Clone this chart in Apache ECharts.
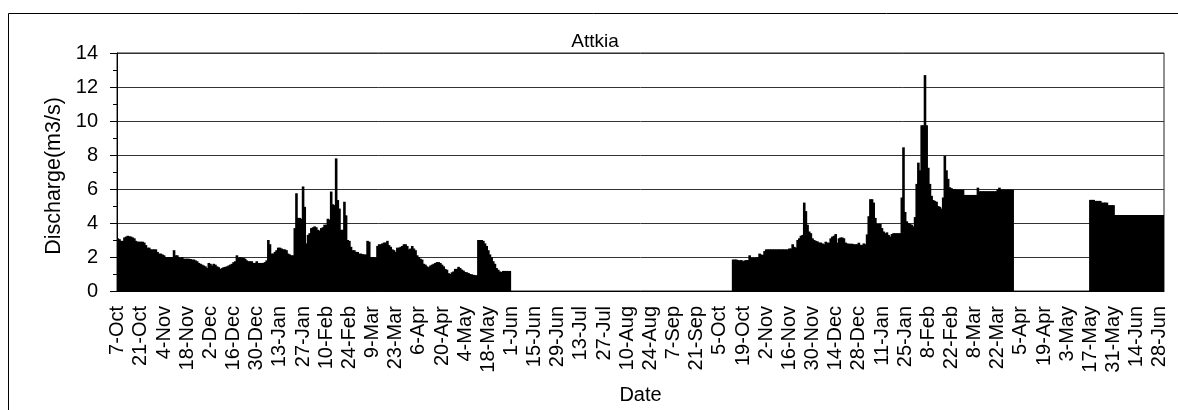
<!DOCTYPE html>
<html>
<head>
<meta charset="utf-8">
<title>Attkia</title>
<script src="https://cdn.jsdelivr.net/npm/echarts@6.0.0/dist/echarts.min.js"></script>
<style>
  html, body { margin: 0; padding: 0; background: #fff; }
  #chart { width: 1178px; height: 410px; }
</style>
</head>
<body>
<div id="chart"></div>
<script>
// Daily discharge record, one bar per day
const START_DATE = '2003-10-07';
const DAY_COUNT = 633;                 // 7-Oct-2003 .. 30-Jun-2005
const MONTHS = ['Jan','Feb','Mar','Apr','May','Jun','Jul','Aug','Sep','Oct','Nov','Dec'];
const TICK_EVERY = 14;                 // one labelled tick every two weeks

// Season 1: 7-Oct-2003 .. 31-May-2004
const season1Start = '2003-10-07';
const season1 = [
  3.1,3.05,2.95,2.95,3.15,3.2,3.25,3.22,3.2,3.15,
  3.1,2.95,2.9,2.9,2.9,2.9,2.85,2.7,2.55,2.55,
  2.45,2.45,2.45,2.45,2.3,2.2,2.2,2.15,2.1,2.0,
  2.0,2.0,2.0,2.0,2.4,2.1,2.1,2.0,1.95,2.0,
  1.9,1.9,1.9,1.9,1.88,1.85,1.85,1.8,1.75,1.65,
  1.6,1.55,1.5,1.45,1.35,1.65,1.6,1.5,1.6,1.55,
  1.45,1.4,1.3,1.35,1.4,1.42,1.45,1.5,1.55,1.6,
  1.7,1.75,2.1,1.95,2.0,1.95,1.95,1.9,1.8,1.75,
  1.75,1.75,1.65,1.65,1.75,1.65,1.65,1.65,1.65,1.7,
  1.8,3.0,2.75,2.2,2.2,2.3,2.4,2.55,2.55,2.5,
  2.45,2.45,2.4,2.2,2.15,2.1,2.1,3.7,5.75,4.3,
  4.3,4.25,6.15,4.95,2.8,3.3,3.4,3.7,3.75,3.8,
  3.75,3.6,3.55,3.7,3.75,3.9,3.9,4.25,4.2,5.85,
  5.1,5.05,7.8,5.35,4.85,3.6,3.6,5.25,4.45,3.0,
  2.95,2.6,2.4,2.4,2.3,2.3,2.2,2.2,2.17,2.15,
  2.15,2.95,2.9,2.0,2.0,1.97,1.97,2.65,2.75,2.75,
  2.8,2.85,2.85,2.95,2.7,2.6,2.45,2.4,2.3,2.55,
  2.55,2.6,2.65,2.75,2.75,2.65,2.45,2.5,2.65,2.5,
  2.4,2.1,2.0,1.9,1.85,1.6,1.55,1.45,1.4,1.5,
  1.55,1.6,1.65,1.7,1.7,1.65,1.55,1.45,1.3,1.25,
  1.05,1.0,1.1,1.15,1.3,1.3,1.42,1.35,1.26,1.2,
  1.12,1.1,1.06,1.0,0.98,0.95,0.93,0.93,3.0,3.0,
  3.0,2.95,2.8,2.65,2.4,2.15,2.0,1.75,1.6,1.35,
  1.25,1.15,1.12,1.18,1.18,1.18,1.18,1.18
];

// Season 2: 13-Oct-2004 .. 31-Mar-2005
const season2Start = '2004-10-13';
const season2 = [
  1.85,1.85,1.85,1.82,1.8,1.82,1.75,1.8,1.82,1.82,
  2.1,1.95,1.95,1.96,1.96,2.0,2.2,2.15,2.12,2.35,
  2.45,2.45,2.45,2.45,2.45,2.45,2.45,2.45,2.45,2.45,
  2.45,2.45,2.45,2.45,2.5,2.5,2.75,2.6,2.55,3.0,
  3.1,3.25,3.3,5.2,4.7,3.9,3.5,3.4,3.1,3.0,
  2.95,2.92,2.85,2.85,2.8,2.75,2.9,2.85,2.84,3.1,
  3.2,3.25,3.35,2.84,3.1,3.15,3.15,3.1,2.85,2.8,
  2.78,2.78,2.78,2.75,2.75,2.75,2.84,2.72,2.7,2.8,
  2.75,3.33,4.4,5.4,5.4,5.2,4.3,3.95,3.95,3.95,
  3.7,3.5,3.4,3.45,3.3,3.2,3.35,3.4,3.4,3.4,
  3.4,3.4,5.5,8.45,4.65,4.1,4.0,3.95,3.9,3.8,
  4.35,6.3,7.55,7.1,9.75,9.75,12.7,9.75,7.25,6.3,
  5.6,5.35,5.3,5.25,5.0,4.95,4.85,5.5,7.95,7.1,
  6.6,6.1,6.05,6.0,6.0,5.96,5.96,5.96,5.96,5.96,
  5.65,5.65,5.65,5.65,5.65,5.65,5.65,5.65,6.08,5.87,
  5.87,5.87,5.87,5.87,5.87,5.87,5.87,5.87,5.87,5.87,
  5.98,6.08,5.96,5.96,5.96,5.96,5.96,5.96,5.96,5.96
];

// Season 3: 17-May-2005 .. 30-Jun-2005
const season3Start = '2005-05-17';
const season3 = [
  5.36,5.36,5.36,5.3,5.3,5.3,5.3,5.2,5.2,5.2,
  5.2,5.05,5.05,5.05,5.05,
  4.47,4.47,4.47,4.47,4.47,4.47,4.47,4.47,4.47,4.47,
  4.47,4.47,4.47,4.47,4.47,4.47,4.47,4.47,4.47,4.47,
  4.47,4.47,4.47,4.47,4.47,4.47,4.47,4.47,4.47,4.47
];

const DAY_MS = 86400000;
const t0 = Date.parse(START_DATE);
const dayIndex = iso => Math.round((Date.parse(iso) - t0) / DAY_MS);

// "7-Oct" style day labels for the category axis
const categories = [];
for (let i = 0; i < DAY_COUNT; i++) {
  const d = new Date(t0 + i * DAY_MS);
  categories.push(d.getUTCDate() + '-' + MONTHS[d.getUTCMonth()]);
}

// Days without a record stay empty
const discharge = new Array(DAY_COUNT).fill(null);
[[season1Start, season1], [season2Start, season2], [season3Start, season3]].forEach(([start, values]) => {
  const offset = dayIndex(start);
  values.forEach((v, i) => { discharge[offset + i] = v; });
});

const FONT = "'Liberation Sans', Arial, sans-serif";
const INK = '#000';

const chart = echarts.init(document.getElementById('chart'), null, { renderer: 'canvas' });
chart.setOption({
  animation: false,
  backgroundColor: '#fff',
  textStyle: { fontFamily: FONT, color: INK },
  title: {
    text: 'Attkia',
    left: 590,
    top: 27,
    textAlign: 'center',
    textStyle: { fontFamily: FONT, fontSize: 19, fontWeight: 'normal', color: INK }
  },
  grid: {
    left: 117, top: 53, width: 1047, height: 238,
    show: true, borderColor: '#222', borderWidth: 1, backgroundColor: 'transparent'
  },
  xAxis: {
    type: 'category',
    data: categories,
    boundaryGap: true,
    name: 'Date',
    nameLocation: 'middle',
    nameGap: 94,
    nameTextStyle: { fontFamily: FONT, fontSize: 20, color: INK },
    axisLine: { lineStyle: { color: INK, width: 1 } },
    axisTick: { interval: TICK_EVERY - 1, length: 5, lineStyle: { color: INK } },
    axisLabel: { interval: TICK_EVERY - 1, rotate: 90, fontFamily: FONT, fontSize: 20, color: INK, margin: 15 },
    splitLine: { show: false }
  },
  yAxis: {
    type: 'value',
    min: 0, max: 14, interval: 2,
    name: 'Discharge(m3/s)',
    nameLocation: 'middle',
    nameRotate: 90,
    nameGap: 52,
    nameTextStyle: { fontFamily: FONT, fontSize: 21.5, color: INK, padding: [0, 8, 0, 0] },
    axisLine: { show: true, lineStyle: { color: INK, width: 1 } },
    axisTick: { show: true, length: 7, lineStyle: { color: INK } },
    minorTick: { show: true, splitNumber: 2, length: 4, lineStyle: { color: INK } },
    axisLabel: { fontFamily: FONT, fontSize: 20, color: INK, margin: 19 },
    splitLine: { show: true, lineStyle: { color: '#333', width: 1 } }
  },
  series: [{
    type: 'bar',
    data: discharge,
    barWidth: 2.6,            // slightly wider than a day so neighbouring bars merge into one solid area
    silent: true,
    itemStyle: { color: INK }
  }],
  graphic: [{
    type: 'rect',
    silent: true,
    shape: { x: 8.5, y: 13.5, width: 1400, height: 600 },
    style: { fill: 'none', stroke: INK, lineWidth: 1 }
  }]
});
</script>
</body>
</html>
